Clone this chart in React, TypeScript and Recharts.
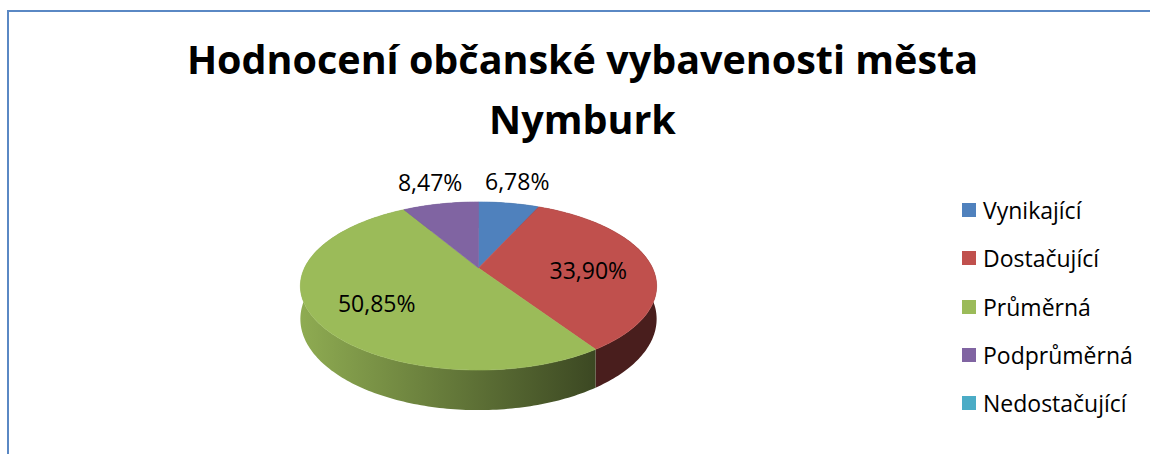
import { Legend, Pie, PieChart } from "recharts"

const categories = ["Vynikající", "Dostačující", "Průměrná", "Podprůměrná", "Nedostačující"]
const shares = [6.78, 33.9, 50.85, 8.47, 0]
const colors = ["#4F81BD", "#C0504D", "#9BBB59", "#8064A2", "#4BACC6"]
const titleLines = ["Hodnocení občanské vybavenosti města", "Nymburk"]

const data = categories.map((name, i) => ({ name, value: shares[i] }))

const FONT = "'Open Sans', sans-serif"
const CX = 478.5
const CY = 268
// perspective of the tilted 3D pie
const K = 0.214
const SX = 174
const SY = 80.2
const DEPTH = 31.5
const RAD = Math.PI / 180

function project(cx: number, cy: number, deg: number, rho = 1) {
  const a = deg * RAD
  const u = rho * Math.cos(a)
  const v = rho * Math.sin(a)
  const w = 1 + K * v
  return { x: cx + (SX * u) / w, y: cy - (SY * v) / w, w }
}

function arcPoints(cx: number, cy: number, start: number, end: number, bottom: boolean) {
  const n = Math.max(2, Math.ceil(Math.abs(end - start)))
  const pts: number[][] = []
  for (let i = 0; i <= n; i++) {
    const p = project(cx, cy, start + ((end - start) * i) / n)
    pts.push([p.x, bottom ? p.y + DEPTH / p.w : p.y])
  }
  return pts
}

const toPath = (pts: number[][]) =>
  pts.map((p, i) => `${i ? "L" : "M"}${p[0].toFixed(2)},${p[1].toFixed(2)}`).join("")

function shade(hex: string, f: number) {
  const n = parseInt(hex.slice(1), 16)
  const c = [(n >> 16) & 255, (n >> 8) & 255, n & 255].map((v) => Math.round(v * f))
  return `rgb(${c.join(",")})`
}

function renderWall(props: any) {
  const { cx, cy, startAngle, endAngle, index, value } = props
  if (!value) return <g />
  const top = arcPoints(cx, cy, startAngle, endAngle, false)
  const bot = arcPoints(cx, cy, startAngle, endAngle, true).reverse()
  const id = `wall-${index}`
  return (
    <g>
      <defs>
        <linearGradient id={id} gradientUnits="userSpaceOnUse" x1={cx - 180} x2={cx + 120} y1={0} y2={0}>
          <stop offset="0" stopColor={shade(colors[index], 0.92)} />
          <stop offset="1" stopColor={shade(colors[index], 0.38)} />
        </linearGradient>
      </defs>
      <path d={toPath([...top, ...bot]) + "Z"} fill={`url(#${id})`} />
    </g>
  )
}

function renderTop(props: any) {
  const { cx, cy, startAngle, endAngle, index, value } = props
  if (!value) return <g />
  const pts = arcPoints(cx, cy, startAngle, endAngle, false)
  const d = `M${cx},${cy}` + toPath(pts).replace(/^M/, "L") + "Z"
  return <path d={d} fill={colors[index]} stroke={colors[index]} strokeWidth={0.6} />
}

function renderText(props: any) {
  const { cx, cy, midAngle, percent, value } = props
  if (!value) return <g />
  const inside = percent > 0.15
  const p = project(cx, cy, midAngle, inside ? 0.64 : 1.35)
  return (
    <text
      x={p.x}
      y={p.y + (inside ? 6 : -4)}
      textAnchor="middle"
      dominantBaseline="central"
      fill="#000"
      fontSize={23}
      fontFamily={FONT}
    >
      {(percent * 100).toFixed(2).replace(".", ",") + "%"}
    </text>
  )
}

const renderLegend = (props: any) => {
  const seen = new Set<string>()
  const items = (props.payload || [])
    .filter((e: any) => {
      if (e.type === "none" || seen.has(e.value)) return false
      seen.add(e.value)
      return true
    })
    .sort((a: any, b: any) => categories.indexOf(a.value) - categories.indexOf(b.value))
  return (
    <div style={{ fontFamily: FONT, fontSize: 23, color: "#000" }}>
      {items.map((e: any) => (
        <div key={e.value} style={{ display: "flex", alignItems: "center", height: 48.3 }}>
          <span
            style={{
              width: 14,
              height: 14,
              marginRight: 7,
              background: colors[categories.indexOf(e.value)],
            }}
          />
          <span>{e.value}</span>
        </div>
      ))}
    </div>
  )
}

const pieProps = {
  data,
  dataKey: "value",
  nameKey: "name",
  cx: CX,
  cy: CY,
  outerRadius: 170,
  startAngle: 90,
  endAngle: -270,
  fill: "none",
  stroke: "none",
  labelLine: false,
  isAnimationActive: false,
}

export default function App() {
  return (
    <div
      style={{
        position: "absolute",
        left: 0,
        top: 0,
        width: 1150,
        height: 454,
        overflow: "hidden",
        background: "#fff",
        fontFamily: FONT,
      }}
    >
      <div
        style={{
          position: "absolute",
          left: 7,
          top: 10,
          width: 2000,
          height: 2000,
          borderTop: "2px solid #5a88c4",
          borderLeft: "2px solid #5a88c4",
        }}
      />
      <div
        style={{
          position: "absolute",
          left: 0,
          top: 29,
          width: 1165,
          textAlign: "center",
          fontSize: 39.5,
          fontWeight: 700,
          lineHeight: "60px",
          color: "#000",
        }}
      >
        {titleLines.map((t) => (
          <div key={t}>{t}</div>
        ))}
      </div>
      <div style={{ position: "absolute", left: 0, top: 0 }}>
        <PieChart width={1150} height={454} margin={{ top: 0, right: 0, bottom: 0, left: 0 }}>
          <Pie {...pieProps} label={renderWall} legendType="none" />
          <Pie {...pieProps} label={renderTop} legendType="square" />
          <Pie {...pieProps} label={renderText} legendType="none" />
          <Legend
            layout="vertical"
            align="right"
            verticalAlign="top"
            itemSorter={null as any}
            content={renderLegend}
            wrapperStyle={{ left: 962, top: 186, width: 190 }}
          />
        </PieChart>
      </div>
    </div>
  )
}
